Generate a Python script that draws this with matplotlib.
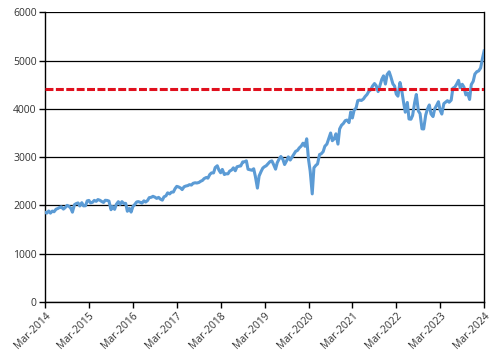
import numpy as np
import pandas as pd
import matplotlib
matplotlib.use("Agg")
import matplotlib.pyplot as plt
import matplotlib.dates as mdates

plt.rcParams['font.family'] = ['Open Sans', 'DejaVu Sans']
plt.rcParams['font.size'] = 7.5

# semi-monthly index levels (1st and 15th of each month), Mar 2014 .. Mar 2024
v2014 = [1859, 1841, 1886, 1842, 1884, 1870, 1924, 1937, 1960, 1973,
         1925, 1955, 2003, 1985, 1946, 1862, 2018, 2039, 2053, 1990]
v2015 = [2058, 1992, 1995, 2096, 2105, 2053, 2068, 2106, 2086, 2123, 2107, 2084,
         2063, 2108, 2104, 2091, 1913, 1978, 1920, 2023, 2079, 2023, 2080, 2043]
v2016 = [2044, 1880, 1940, 1864, 1978, 2016, 2072, 2081, 2065, 2047, 2097, 2071,
         2103, 2162, 2170, 2190, 2171, 2147, 2168, 2133, 2111, 2180, 2199, 2262]
v2017 = [2239, 2275, 2279, 2349, 2396, 2385, 2363, 2329, 2388, 2402, 2412, 2432,
         2423, 2459, 2470, 2465, 2476, 2500, 2519, 2557, 2579, 2565, 2642, 2675]
v2018 = [2674, 2786, 2822, 2731, 2677, 2747, 2641, 2656, 2655, 2711, 2735, 2779,
         2718, 2801, 2813, 2818, 2902, 2904, 2924, 2750, 2740, 2730, 2760, 2600]
v2019 = [2360, 2610, 2706, 2775, 2803, 2822, 2867, 2907, 2924, 2850, 2752, 2886,
         2964, 3014, 2953, 2847, 2926, 3007, 2940, 2995, 3066, 3120, 3141, 3191]
v2020 = [3231, 3289, 3225, 3380, 2954, 2711, 2240, 2780, 2830, 2860, 3055, 3070,
         3115, 3226, 3271, 3372, 3500, 3340, 3380, 3483, 3270, 3585, 3662, 3694]
v2021 = [3756, 3768, 3714, 3934, 3811, 3968, 4020, 4170, 4181, 4173, 4204, 4255,
         4298, 4360, 4395, 4468, 4523, 4480, 4357, 4471, 4613, 4682, 4513, 4710]
v2022 = [4766, 4663, 4516, 4471, 4306, 4262, 4545, 4392, 4132, 3930, 4132, 3790,
         3785, 3863, 4130, 4297, 3955, 3901, 3586, 3583, 3872, 3992, 4080, 3895]
v2023 = [3840, 3999, 4077, 4147, 3970, 3892, 4109, 4137, 4169, 4136, 4180, 4426,
         4450, 4505, 4589, 4437, 4508, 4450, 4288, 4327, 4194, 4502, 4568, 4719]
v2024 = [4770, 4783, 4846, 5030, 5200]

values = v2014 + v2015 + v2016 + v2017 + v2018 + v2019 + v2020 + v2021 + v2022 + v2023 + v2024
dates = pd.date_range("2014-03-01", periods=len(values), freq="SMS")
ref_level = 4420

fig = plt.figure(figsize=(4.92, 3.58), dpi=100)
ax = fig.add_axes([0.0915, 0.156, 0.8925, 0.81])

ax.plot(dates, values, color='#5B9BD5', linewidth=2.2, zorder=3)
ax.axhline(ref_level, color='#E0101E', linewidth=2.2, linestyle=(0, (2.6, 0.8)), zorder=4)

ax.set_ylim(0, 6000)
ax.set_yticks(np.arange(0, 6001, 1000))
ax.set_xlim(pd.Timestamp("2014-03-01"), pd.Timestamp("2024-03-01"))
ax.set_xticks(pd.date_range("2014-03-01", "2024-03-01", freq="12MS"))
ax.xaxis.set_major_formatter(mdates.DateFormatter("%b-%Y"))
plt.setp(ax.get_xticklabels(), rotation=45, ha='right', rotation_mode='anchor')

ax.yaxis.grid(True, color='black', linewidth=0.9)
ax.set_axisbelow(True)
ax.spines['top'].set_visible(False)
for s in ['left', 'bottom', 'right']:
    ax.spines[s].set_color('black')
    ax.spines[s].set_linewidth(1.0)
ax.tick_params(axis='both', direction='out', length=4, width=1, colors='black',
               labelcolor='#333333', pad=2)
ax.tick_params(axis='y', right=False)

fig.savefig("out.png", dpi=100)
